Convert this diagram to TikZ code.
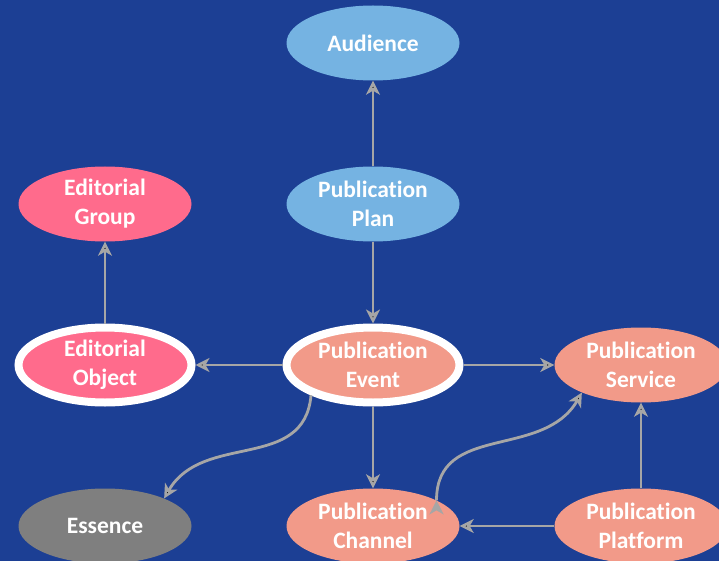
\documentclass[tikz,border=0pt]{standalone}
\usepackage{fontspec}
\setmainfont{Carlito}[Ligatures={NoCommon,NoRare}]
\usetikzlibrary{shapes.geometric}
\usetikzlibrary{arrows.meta}
\usetikzlibrary{positioning}
\definecolor{bgblue}{RGB}{28,63,148}
\definecolor{planblue}{RGB}{117,179,226}
\definecolor{editpink}{RGB}{255,107,140}
\definecolor{pubsalmon}{RGB}{242,154,137}
\definecolor{essgray}{RGB}{127,127,127}
\definecolor{linkgray}{RGB}{166,166,166}

\begin{document}
\begin{tikzpicture}[node distance=161pt and 268pt,on grid,
    entity/.style={ellipse, minimum width=173pt, minimum height=75pt, inner sep=0pt,
      align=center, text=white, font=\fontsize{23.5}{29}\selectfont\bfseries},
    core/.style={draw=white, line width=8pt},
    link/.style={draw=linkgray, line width=2.8pt,
      -{Stealth[length=14pt,width=14pt,inset=4pt]}}]
  \useasboundingbox (0pt,0pt) rectangle (719pt,-561pt);
  \fill[bgblue] (0pt,0pt) rectangle (719pt,-561pt);

	\node[entity, core, fill=pubsalmon] (event) at (373pt,-365pt) {Publication\\Event};
	 \node[entity, fill=planblue] (plan) [above=of event] {Publication\\Plan};
	 \node[entity, fill=planblue] (audience) [above=of plan] {Audience};
	 \node[entity, core, fill=editpink] (object) [left=of event] {Editorial\\Object};
	 \node[entity, fill=editpink] (group) [above=of object] {Editorial\\Group};
	 \node[entity, fill=pubsalmon] (service) [right=of event] {Publication\\Service};
	 \node[entity, fill=pubsalmon] (channel) [below=of event] {Publication\\Channel};
	 \node[entity, fill=pubsalmon] (platform) [below=of service] {Publication\\Platform};
	 \node[entity, fill=essgray] (essence) [below=of object] {Essence};

	  \path[link]
	    (plan) edge (audience)
	    (plan) edge (event)
	    (object) edge (group)
	    (event) edge (object)
	    (event) edge (service)
	    (event) edge (channel)
	    (platform) edge (service)
	    (platform) edge (channel)
	    (event.206) edge [out=-95, in=60, looseness=1.1] (essence.25)
	    (channel.22) edge [out=90, in=-120, looseness=1.1] (service.205)
	  ;
\end{tikzpicture}
\end{document}
